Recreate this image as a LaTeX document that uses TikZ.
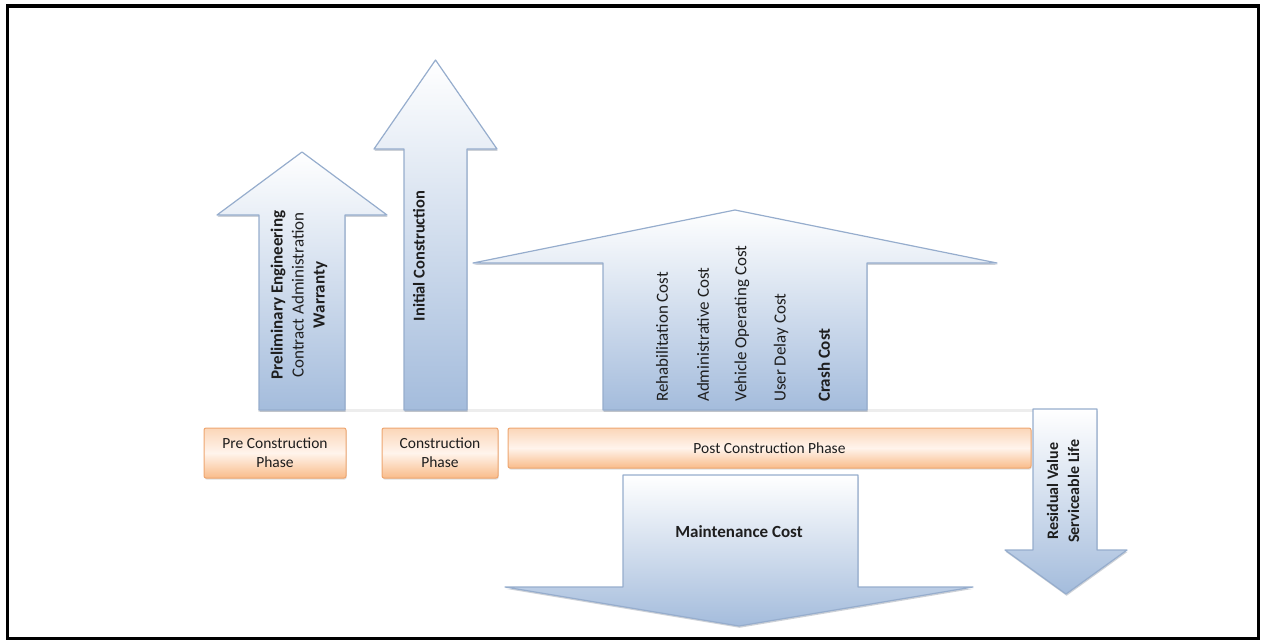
\documentclass[tikz,border=0pt]{standalone}
\usepackage{fontspec}
\setmainfont{Carlito}
\usetikzlibrary{shadows}

\definecolor{arwfill}{RGB}{164,188,220}
\definecolor{arwline}{RGB}{150,173,205}
\definecolor{boxtop}{RGB}{251,214,184}
\definecolor{boxmid}{RGB}{255,244,236}
\definecolor{boxbot}{RGB}{249,188,138}
\definecolor{boxline}{RGB}{238,166,112}
\definecolor{ink}{RGB}{30,30,30}

\tikzset{
  arw/.style={draw=arwline, line width=1.2pt, line join=round,
    top color=white, bottom color=arwfill,
    drop shadow={shadow xshift=0.6pt, shadow yshift=-1.8pt, opacity=0.3, fill=arwline!60!black}},
  phasebox/.style={rectangle, rounded corners=2pt, draw=boxline, line width=1pt,
    top color=boxtop, bottom color=boxbot, middle color=boxmid,
    drop shadow={shadow xshift=0.6pt, shadow yshift=-1.5pt, opacity=0.25},
    text=ink, align=center, inner sep=0pt, font=\fontsize{15.5}{19}\selectfont},
  lbl/.style={text=ink, inner sep=0pt, font=\fontsize{17}{21}\selectfont},
  costlbl/.style={lbl, rotate=90, anchor=west},
}

\begin{document}
\begin{tikzpicture}[x=1pt,y=-1pt]
\useasboundingbox (0,0) rectangle (1261,640);

% outer frame
\draw[line width=3.5pt] (7.5,6) rectangle (1258.5,638.5);

% faint ground line under the rising arrows
\draw[line width=3pt, black!7] (258,410.5) -- (1035,410.5);

% rising cost arrows
\path[arw] (259,410) -- (259,215) -- (217,215) -- (302,152) -- (387,215)
  -- (345,215) -- (345,410) -- cycle;
\path[arw] (404,410) -- (404,149) -- (374,149) -- (435.5,60) -- (497,149)
  -- (467,149) -- (467,410) -- cycle;
\path[arw] (603,410) -- (603,263) -- (473,263) -- (735,210) -- (997,263)
  -- (867,263) -- (867,410) -- cycle;

% falling arrows
\path[arw] (623,475) -- (858,475) -- (858,587) -- (973,587) -- (739,626)
  -- (505,587) -- (623,587) -- cycle;
\path[arw] (1033,409) -- (1097,409) -- (1097,550) -- (1127,550) -- (1066,594)
  -- (1005,550) -- (1033,550) -- cycle;

% phase boxes
\node[phasebox, minimum width=142pt, minimum height=50pt] (pre) at (275,453)
  {Pre Construction\\Phase};
\node[phasebox, minimum width=116pt, minimum height=50pt] (con) at (440,453)
  {Construction\\Phase};
\node[phasebox, minimum width=523pt, minimum height=40pt] (post) at (769.5,448)
  {Post Construction Phase};

% arrow labels
\node[lbl, rotate=90, align=center] (t-pre) at (299,295)
  {\textbf{Preliminary Engineering}\\Contract Administration\\\textbf{Warranty}};
\node[lbl, rotate=90, font=\bfseries\fontsize{16.5}{21}\selectfont] (t-init) at (419,256)
  {Initial Construction};

\node[costlbl] (c-rehab) at (662,402) {Rehabilitation Cost};
\node[costlbl] (c-admin) at (703,402) {Administrative Cost};
\node[costlbl] (c-voc)   at (742,402) {Vehicle Operating Cost};
\node[costlbl] (c-delay) at (781,402) {User Delay Cost};
\node[costlbl, font=\bfseries\fontsize{17}{21}\selectfont] (c-crash) at (824,402) {Crash Cost};

\node[lbl, font=\bfseries\fontsize{17}{21}\selectfont] (t-maint) at (739,532) {Maintenance Cost};
\node[lbl, rotate=90, align=center, font=\bfseries\fontsize{16}{21}\selectfont] (t-res) at (1063,491)
  {Residual Value\\Serviceable Life};
\end{tikzpicture}
\end{document}
